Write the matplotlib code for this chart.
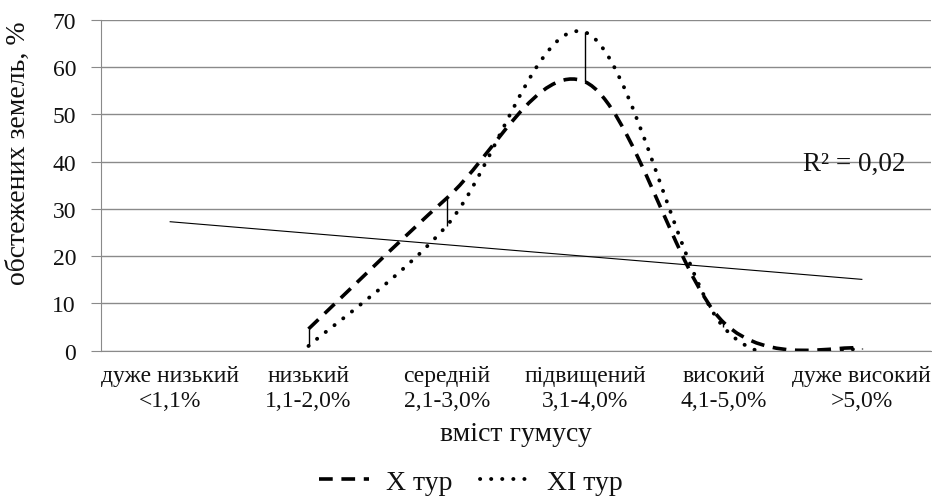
import numpy as np
import matplotlib
matplotlib.use("Agg")
import matplotlib.pyplot as plt
from matplotlib.path import Path
from matplotlib.patches import PathPatch
from matplotlib.lines import Line2D

plt.rcParams['font.family'] = ['Liberation Serif', 'DejaVu Serif']

# data
categories = ['дуже низький\n<1,1%', 'низький\n1,1-2,0%', 'середній\n2,1-3,0%',
              'підвищений\n3,1-4,0%', 'високий\n4,1-5,0%', 'дуже високий\n>5,0%']
x_tour = [np.nan, 4.6, 32.3, 56.9, 6.0, 0.5]
xi_tour = [np.nan, 1.0, 26.5, 67.4, 5.0, 0.3]
trend_x = [0, 5]
trend_y = [27.3, 15.1]
r2_text = 'R² = 0,02'
yticks = [0, 10, 20, 30, 40, 50, 60, 70]

TXT = '#111111'
GRID = '#8a8a8a'


def smooth_path(ys):
    # excel-like smoothed line: cubic bezier through the points (catmull-rom tangents)
    pts = np.array([(i, v) for i, v in enumerate(ys) if not np.isnan(v)], dtype=float)
    n = len(pts)
    verts = [pts[0]]
    codes = [Path.MOVETO]
    for i in range(n - 1):
        p_prev = pts[i - 1] if i > 0 else pts[i]
        p_next = pts[i + 2] if i + 2 < n else pts[i + 1]
        c1 = pts[i] + (pts[i + 1] - p_prev) / 6
        c2 = pts[i + 1] - (p_next - pts[i]) / 6
        verts += [c1, c2, pts[i + 1]]
        codes += [Path.CURVE4] * 3
    return Path(verts, codes)


fig = plt.figure(figsize=(9.32, 5.02), dpi=100)
ax = fig.add_axes([101 / 932, 150.3 / 502, 830 / 932, 330.7 / 502])

x = np.arange(len(categories))
ax.set_xlim(-0.5, len(categories) - 0.5)
ax.set_ylim(0, 70)
ax.set_yticks(yticks)
ax.yaxis.grid(True, color=GRID, lw=1.0)
ax.set_axisbelow(True)
for s in ['top', 'right']:
    ax.spines[s].set_visible(False)
ax.spines['left'].set_color(GRID)
ax.spines['bottom'].set_color(GRID)
ax.tick_params(axis='y', length=7, color=GRID, pad=11, labelsize=17, labelcolor=TXT)
ax.set_xticks(x)
ax.set_xticklabels(categories, linespacing=1.3)
ax.tick_params(axis='x', length=0, pad=10, labelsize=17, labelcolor=TXT)
ax.set_xlabel('вміст гумусу', fontsize=20, color=TXT, labelpad=7)
fig.text(18 / 932, 1 - 153 / 502, 'обстежених земель, %', rotation=90,
         ha='center', va='center', fontsize=20, color=TXT)

# trend line
ax.plot(trend_x, trend_y, color='black', lw=0.8)

# high-low lines between the two series
lo = np.fmin(x_tour, xi_tour)
hi = np.fmax(x_tour, xi_tour)
ax.vlines(x, lo, hi, color='black', lw=1.0)

dash_style = (0, (3.8, 2.4))
dot_style = (0, (0.05, 2.8))
ax.add_patch(PathPatch(smooth_path(x_tour), fill=False, edgecolor='black',
                       lw=2.6, linestyle=dash_style, capstyle='butt'))
ax.add_patch(PathPatch(smooth_path(xi_tour), fill=False, edgecolor='black',
                       lw=2.8, linestyle=dot_style, capstyle='round'))

ax.text(0.846, 0.565, r2_text, transform=ax.transAxes, ha='left', va='center',
        fontsize=19.5, color=TXT)

handles = [Line2D([], [], color='black', lw=2.6, linestyle=dash_style),
           Line2D([], [], color='black', lw=2.8, linestyle=dot_style, dash_capstyle='round')]
fig.legend(handles, ['X тур', 'XI тур'], loc='center', bbox_to_anchor=(471 / 932, 1 - 483 / 502),
           ncol=2, frameon=False, fontsize=20, handlelength=1.8, handletextpad=0.6,
           columnspacing=1.0, labelcolor=TXT)

fig.savefig('out.png', dpi=100)
